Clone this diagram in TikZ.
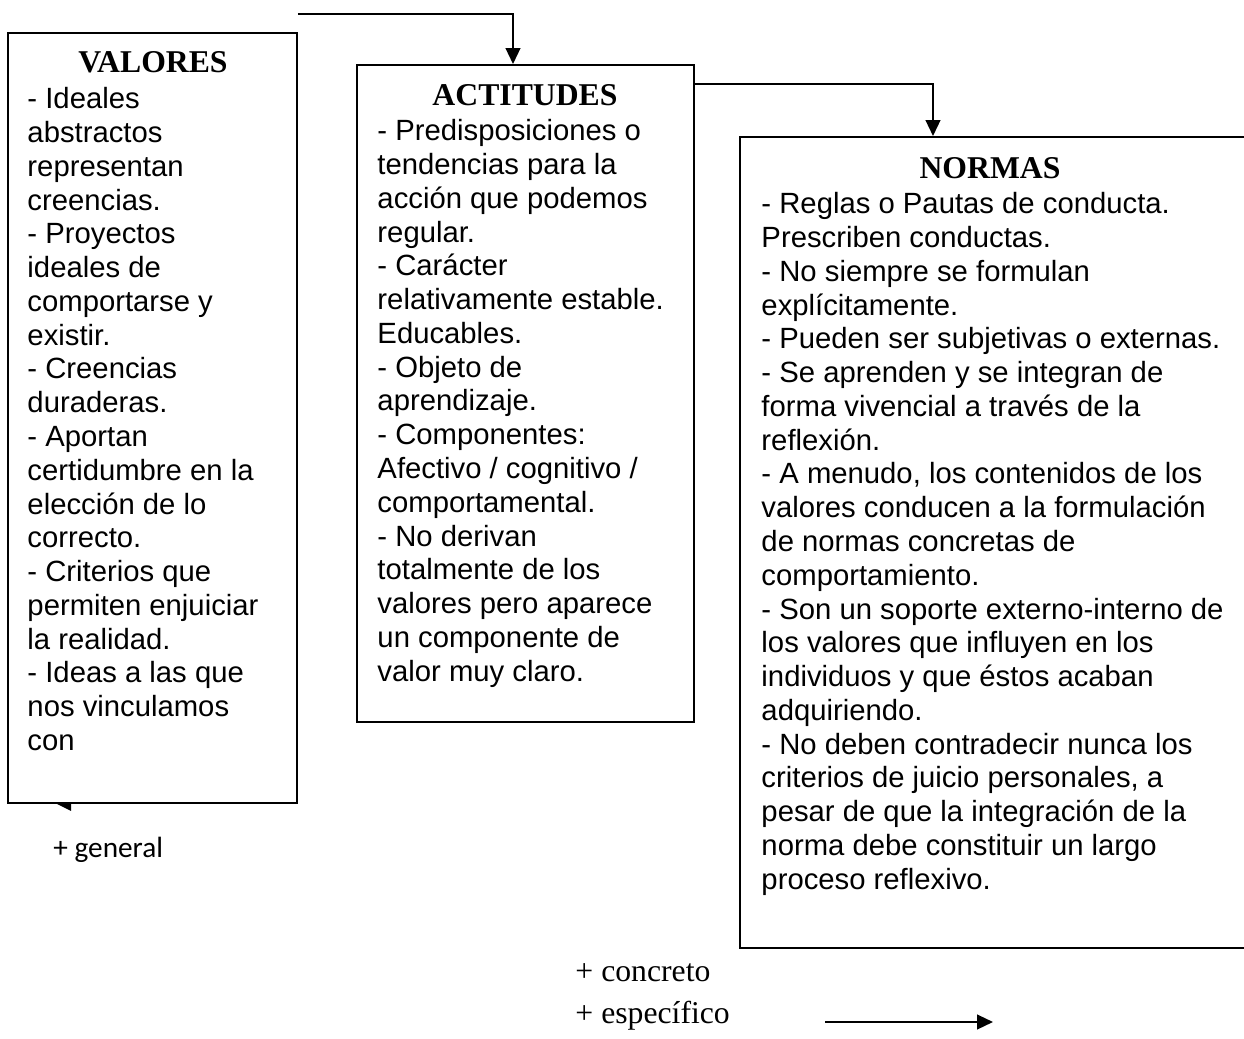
\documentclass[tikz,border=0pt]{standalone}
\usepackage{fontspec}
\setmainfont{Liberation Serif}
\setsansfont{Liberation Sans}
\newfontfamily\calibrifont{Carlito}
\usepackage{tikz}
\usetikzlibrary{
        arrows.meta,
        fit,
        positioning
    }
\tikzset{>={Triangle[length=6.5pt,width=6pt]}}
\tikzset{caja/.style={draw,line width=0.8pt,inner sep=0pt}}
\tikzset{titulo/.style={font=\bfseries\fontsize{13}{15}\selectfont,inner sep=0pt,anchor=base}}
\tikzset{cuerpo/.style={font=\sffamily\fontsize{12}{13.85}\selectfont,align=left,inner sep=0pt,anchor=north west}}
\tikzset{etiqueta/.style={font=\fontsize{13}{15}\selectfont,inner sep=0pt,anchor=base west}}
\tikzset{flecha/.style={->,line width=0.8pt}}

\begin{document}
\begin{tikzpicture}[x=0.41pt,y=-0.41pt]
            \useasboundingbox (0,0) rectangle (1244,1039);
            \node[caja,fit={(8,33) (297,803)}] (valores) {};
            \node[caja,fit={(357,65) (694,722)}] (actitudes) {};
            \node[caja,fit={(740,137) (1270,948)}] (normas) {};
            \node[titulo] (tvalores) at (153,73) {VALORES};
            \node[titulo] (tactitudes) at (525,106) {ACTITUDES};
            \node[titulo] (tnormas) at (990,179) {NORMAS};
            \node[cuerpo] (cvalores) at (27,87) {- Ideales\\abstractos\\representan\\creencias.\\- Proyectos\\ideales de\\comportarse y\\existir.\\- Creencias\\duraderas.\\- Aportan\\certidumbre en la\\elección de lo\\correcto.\\- Criterios que\\permiten enjuiciar\\la realidad.\\- Ideas a las que\\nos vinculamos\\con};
            \node[cuerpo] (cactitudes) at (377,119) {- Predisposiciones o\\tendencias para la\\acción que podemos\\regular.\\- Carácter\\relativamente estable.\\Educables.\\- Objeto de\\aprendizaje.\\- Componentes:\\Afectivo / cognitivo /\\comportamental.\\- No derivan\\totalmente de los\\valores pero aparece\\un componente de\\valor muy claro.};
            \node[cuerpo] (cnormas) at (761,192) {- Reglas o Pautas de conducta.\\Prescriben conductas.\\- No siempre se formulan\\explícitamente.\\- Pueden ser subjetivas o externas.\\- Se aprenden y se integran de\\forma vivencial a través de la\\reflexión.\\- A menudo, los contenidos de los\\valores conducen a la formulación\\de normas concretas de\\comportamiento.\\- Son un soporte externo-interno de\\los valores que influyen en los\\individuos y que éstos acaban\\adquiriendo.\\- No deben contradecir nunca los\\criterios de juicio personales, a\\pesar de que la integración de la\\norma debe constituir un largo\\proceso reflexivo.};
            \coordinate (e1) at (513,0);
            \coordinate (e2) at (933,0);
            \draw[flecha] (valores.north east) ++(0,-18) -| (e1 |- actitudes.north);
            \draw[flecha] (actitudes.north east) ++(0,20) -| (e2 |- normas.north);
            \fill (valores.south west) ++(50,0) -- ++(14,0) -- ++(0,7) -- cycle;
            \node[etiqueta,font=\calibrifont\fontsize{12}{14}\selectfont] (general) at (53,857) {+ general};
            \node[etiqueta] (concreto) at (575,981) {+ concreto};
            \node[etiqueta] (especifico) at (575,1023) {+ específico};
            \coordinate (d1) at (825,1022);
            \coordinate (d2) at (993,1022);
            \draw[flecha] (d1) -- (d2);
        \end{tikzpicture}
\end{document}
